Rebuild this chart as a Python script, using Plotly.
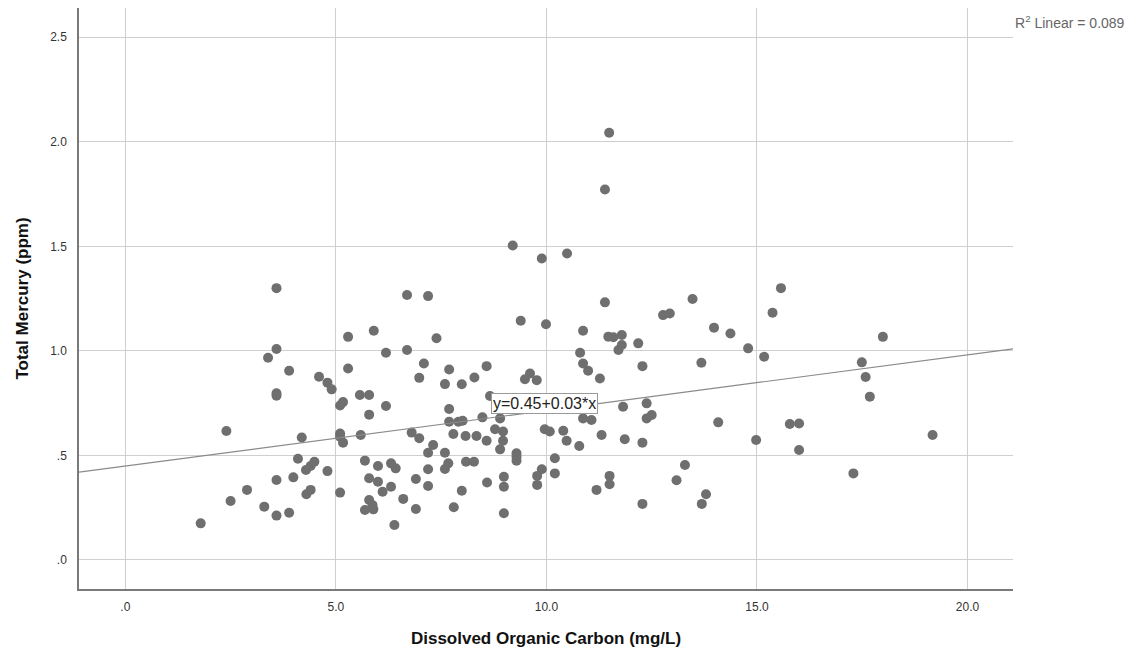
import plotly.graph_objects as go

# Data
doc = [1.79, 2.40, 2.50, 2.89, 3.30, 3.39, 3.59, 3.59, 3.59, 3.59, 3.59, 3.59, 3.89, 3.89, 3.99,
       4.10, 4.19, 4.29, 4.30, 4.40, 4.40, 4.49, 4.60, 4.80, 4.80, 4.90, 5.10, 5.17, 5.10, 5.10,
       5.17, 5.10, 5.29, 5.29, 5.57, 5.59, 5.69, 5.79, 5.79, 5.79, 5.79, 5.87, 5.69, 5.89, 5.90,
       6.00, 6.00, 6.11, 6.19, 6.19, 6.31, 6.42, 6.31, 6.39, 6.60, 6.69, 6.69, 6.80, 6.98, 6.90,
       6.90, 6.98, 7.09, 7.19, 7.19, 7.31, 7.19, 7.19, 7.39, 7.59, 7.59, 7.67, 7.59, 7.69, 7.69,
       7.69, 7.79, 7.80, 7.91, 8.01, 7.99, 7.99, 8.08, 8.09, 8.28, 8.29, 8.34, 8.48, 8.58, 8.58,
       8.59, 8.66, 8.78, 8.90, 8.90, 8.97, 8.97, 8.99, 8.99, 8.99, 9.20, 9.29, 9.29, 9.29, 9.39,
       9.49, 9.61, 9.77, 9.78, 9.78, 9.89, 9.89, 9.96, 9.99, 10.08, 10.20, 10.20, 10.40, 10.48, 10.49,
       10.78, 10.80, 10.87, 10.87, 10.99, 10.87, 11.07, 11.19, 11.27, 11.31, 11.39, 11.39, 11.47, 11.49, 11.50,
       11.50, 11.59, 11.71, 11.79, 11.79, 11.82, 11.86, 12.18, 12.28, 12.28, 12.28, 12.38, 12.38, 12.50, 12.77,
       12.93, 13.09, 13.29, 13.47, 13.68, 13.69, 13.79, 13.98, 14.08, 14.37, 14.79, 14.98, 15.17, 15.37, 15.57,
       15.78, 16.00, 16.00, 17.29, 17.49, 17.58, 17.68, 17.99, 19.17]
mercury = [0.175, 0.617, 0.282, 0.335, 0.255, 0.967, 1.300, 1.009, 0.797, 0.785, 0.382, 0.212, 0.905, 0.226, 0.395,
           0.484, 0.586, 0.430, 0.314, 0.449, 0.335, 0.470, 0.876, 0.848, 0.425, 0.816, 0.739, 0.755, 0.605, 0.589,
           0.561, 0.322, 1.067, 0.916, 0.789, 0.598, 0.475, 0.789, 0.695, 0.391, 0.287, 0.262, 0.239, 0.242, 1.096,
           0.449, 0.374, 0.326, 0.991, 0.736, 0.462, 0.438, 0.350, 0.167, 0.292, 1.267, 1.004, 0.609, 0.582, 0.387,
           0.244, 0.871, 0.940, 1.262, 0.513, 0.550, 0.434, 0.354, 1.060, 0.841, 0.513, 0.462, 0.435, 0.911, 0.722,
           0.661, 0.602, 0.252, 0.661, 0.666, 0.840, 0.331, 0.593, 0.470, 0.470, 0.873, 0.593, 0.682, 0.927, 0.570,
           0.370, 0.784, 0.625, 0.677, 0.529, 0.614, 0.570, 0.398, 0.350, 0.223, 1.504, 0.510, 0.494, 0.475, 1.144,
           0.864, 0.892, 0.860, 0.402, 0.359, 1.442, 0.434, 0.625, 1.127, 0.614, 0.486, 0.414, 0.618, 0.570, 1.466,
           0.545, 0.991, 1.096, 0.940, 0.905, 0.677, 0.669, 0.335, 0.868, 0.598, 1.772, 1.232, 1.068, 2.043, 0.402,
           0.362, 1.065, 1.004, 1.076, 1.028, 0.733, 0.577, 1.036, 0.927, 0.561, 0.268, 0.749, 0.677, 0.693, 1.171,
           1.179, 0.381, 0.454, 1.248, 0.943, 0.268, 0.314, 1.111, 0.658, 1.083, 1.012, 0.574, 0.972, 1.182, 1.300,
           0.650, 0.653, 0.526, 0.414, 0.945, 0.875, 0.781, 1.067, 0.598]

fit_intercept = 0.449
fit_slope = 0.0266
x_range = [-1.1, 21.08]
y_range = [-0.139, 2.64]

x_ticks = [0, 5, 10, 15, 20]
x_ticklabels = [".0", "5.0", "10.0", "15.0", "20.0"]
y_ticks = [0, 0.5, 1.0, 1.5, 2.0, 2.5]
y_ticklabels = [".0", ".5", "1.0", "1.5", "2.0", "2.5"]

FONT = "Arial, Liberation Sans, sans-serif"

fig = go.Figure()
fig.add_trace(go.Scatter(
    x=doc, y=mercury, mode="markers",
    marker=dict(size=10, color="#6f6f6f", line=dict(width=0)),
    showlegend=False, hoverinfo="skip"))

line_x = x_range
line_y = [fit_intercept + fit_slope * v for v in line_x]
fig.add_trace(go.Scatter(
    x=line_x, y=line_y, mode="lines",
    line=dict(color="#8a8a8a", width=1.2),
    showlegend=False, hoverinfo="skip"))

fig.add_annotation(
    x=9.96, y=0.75, xref="x", yref="y",
    text="y=0.45+0.03*x", showarrow=False,
    font=dict(family=FONT, size=16, color="#222222"),
    bgcolor="white", bordercolor="#9a9a9a", borderwidth=1, borderpad=1)

fig.add_annotation(
    x=1.0, y=1.0, xref="paper", yref="paper",
    xanchor="left", yanchor="top", xshift=0, yshift=-3,
    text="R<sup>2</sup> Linear = 0.089", showarrow=False,
    font=dict(family=FONT, size=14, color="#666666"))

fig.update_layout(
    width=1139, height=658,
    margin=dict(l=79, r=126, t=8, b=69),
    paper_bgcolor="white", plot_bgcolor="white",
    font=dict(family=FONT, size=12, color="#333333"),
    xaxis=dict(
        range=x_range, tickvals=x_ticks, ticktext=x_ticklabels,
        showgrid=True, gridcolor="#cfcfcf", gridwidth=1.2,
        zeroline=False, showline=True, linecolor="#7a7a7a", linewidth=1.5,
        ticks="", ticklabelstandoff=6,
        tickfont=dict(family=FONT, size=12, color="#333333"),
        title=dict(text="<b>Dissolved Organic Carbon (mg/L)</b>",
                   font=dict(family=FONT, size=17, color="#111111"), standoff=19)),
    yaxis=dict(
        range=y_range, tickvals=y_ticks, ticktext=y_ticklabels,
        showgrid=True, gridcolor="#cfcfcf", gridwidth=1.2,
        zeroline=False, showline=True, linecolor="#7a7a7a", linewidth=1.5,
        ticks="", ticklabelstandoff=8,
        tickfont=dict(family=FONT, size=12, color="#333333"),
        title=dict(text="<b>Total Mercury (ppm)</b>",
                   font=dict(family=FONT, size=17, color="#111111"), standoff=17)),
)

fig.write_html("out.html")
